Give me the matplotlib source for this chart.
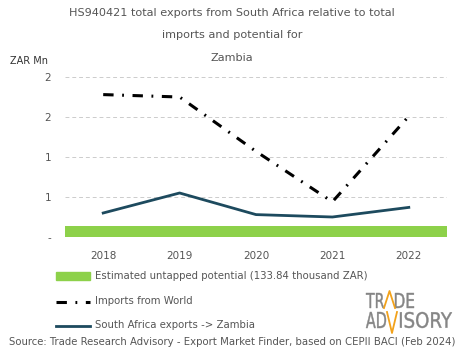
import matplotlib.pyplot as plt
import matplotlib.patches as patches
from matplotlib.lines import Line2D
from matplotlib.textpath import TextPath
from matplotlib.font_manager import FontProperties
from matplotlib.transforms import Affine2D

years = ['2018', '2019', '2020', '2021', '2022']
imports_world = [1.78, 1.75, 1.07, 0.44, 1.51]
sa_exports = [0.30, 0.55, 0.28, 0.25, 0.37]
untapped = 0.13384
yticks = [0, 0.5, 1.0, 1.5, 2.0]
ytick_labels = ['-', '1', '1', '2', '2']

W, H = 465, 359
TXT = '#555555'
GREEN = '#8dd14a'
TEAL = '#1d4a5e'
DASHDOT = (0, (3.4, 2.8, 0.6, 2.8))

fig = plt.figure(figsize=(W / 100, H / 100), dpi=100)
fig.patch.set_facecolor('white')
ax = fig.add_axes([65 / W, 1 - 237 / H, 382 / W, 160 / H])

x = range(len(years))
ax.bar(x, [untapped] * len(years), width=1.0, color=GREEN, zorder=2)
ax.plot(x, imports_world, color='black', lw=2.2, linestyle=DASHDOT, zorder=3)
ax.plot(x, sa_exports, color=TEAL, lw=2.0, zorder=3)

ax.set_xlim(-0.5, len(years) - 0.5)
ax.set_ylim(0, 2.0)
ax.set_yticks(yticks)
ax.set_yticklabels(ytick_labels)
ax.set_xticks(list(x))
ax.set_xticklabels(years)
ax.tick_params(length=0, labelsize=7.5, colors=TXT, pad=10)
ax.tick_params(axis='y', pad=10)
ax.grid(axis='y', color='#cccccc', linestyle=(0, (4, 3)), lw=0.7, zorder=0)
for s in ax.spines.values():
    s.set_visible(False)

# title
title_lines = ['HS940421 total exports from South Africa relative to total',
               'imports and potential for', 'Zambia']
for i, line in enumerate(title_lines):
    fig.text(232 / W, 1 - (13 + i * 22.5) / H, line, ha='center', va='center',
             fontsize=8.1, color=TXT)
fig.text(10 / W, 1 - 61 / H, 'ZAR Mn', ha='left', va='center', fontsize=7, color='#333333')

# legend
fig.patches.append(patches.Rectangle((56 / W, 1 - 280 / H), 34 / W, 8 / H,
                                     transform=fig.transFigure, color=GREEN))
fig.lines.append(Line2D([56 / W, 90 / W], [1 - 302 / H] * 2, transform=fig.transFigure,
                        color='black', lw=2.2, linestyle=DASHDOT))
fig.lines.append(Line2D([56 / W, 90 / W], [1 - 326 / H] * 2, transform=fig.transFigure,
                        color=TEAL, lw=2.0))
legend_texts = ['Estimated untapped potential (133.84 thousand ZAR)',
                'Imports from World', 'South Africa exports -> Zambia']
for i, t in enumerate(legend_texts):
    fig.text(95 / W, 1 - (276 + i * 24.5) / H, t, ha='left', va='center',
             fontsize=7.3, color=TXT)

fig.text(232 / W, 1 - 342 / H,
         'Source: Trade Research Advisory - Export Market Finder, based on CEPII BACI (Feb 2024)',
         ha='center', va='center', fontsize=7.3, color=TXT)

# logo, drawn in pixel coordinates on an overlay axes
lax = fig.add_axes([0, 0, 1, 1])
lax.set_xlim(0, W)
lax.set_ylim(H, 0)
lax.axis('off')
lax.patch.set_alpha(0)
prop = FontProperties(family='DejaVu Sans')


def fit_text(s, x0, x1, top, bottom, color):
    p = TextPath((0, 0), s, size=1, prop=prop)
    ext = p.get_extents()
    tr = (Affine2D().translate(-ext.x0, -ext.y0)
          .scale((x1 - x0) / ext.width, -(bottom - top) / ext.height)
          .translate(x0, bottom))
    lax.add_patch(patches.PathPatch(tr.transform_path(p), facecolor=color,
                                    edgecolor=color, lw=0.3))


LOGO = '#858585'
ORANGE = '#f2a21b'
fit_text('TR', 366, 384, 293, 308, LOGO)
fit_text('DE', 395, 414, 293, 308, LOGO)
fit_text('AD', 366, 386, 312, 328, LOGO)
fit_text('ISORY', 400, 452, 312, 328, LOGO)
lax.plot([384, 389.5, 395], [308, 291, 308], color=ORANGE, lw=1.3)
lax.plot([387, 392, 397], [312, 333, 312], color=ORANGE, lw=1.3)

fig.savefig('out.png', dpi=100, facecolor='white')
